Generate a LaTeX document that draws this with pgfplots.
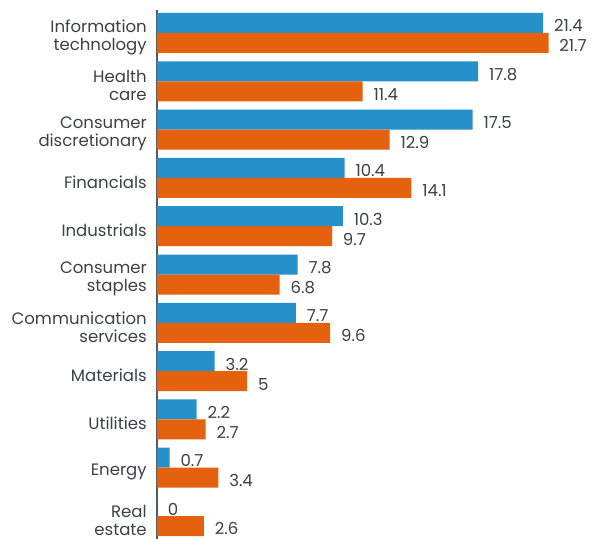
\documentclass[border=0pt]{standalone}
\usepackage{pgfplots}
\pgfplotsset{compat=1.18}
\usepackage{pgfplotstable}
\usepackage{fontspec}
\setmainfont{Poppins}

\definecolor{barblue}{HTML}{2590C9}
\definecolor{barorange}{HTML}{E4610E}
\definecolor{txt}{HTML}{3C4048}
\definecolor{axisgray}{HTML}{555A60}

% position, value
\pgfplotstableread{
pos val
0 21.4
1 17.8
2 17.5
3 10.4
4 10.3
5 7.8
6 7.7
7 3.2
8 2.2
9 0.7
10 0
}\bluedata
\pgfplotstableread{
pos val
0 21.7
1 11.4
2 12.9
3 14.1
4 9.7
5 6.8
6 9.6
7 5
8 2.7
9 3.4
10 2.6
}\orangedata

\begin{document}
\begin{tikzpicture}
\useasboundingbox (-117.75pt,0) rectangle (327pt,404.25pt);
\begin{axis}[
  scale only axis,
  width=324.75pt, height=396.75pt,
  xbar=0pt, bar width=15pt,
  xmin=0, xmax=24,
  ymin=-0.476, ymax=10.476,
  y dir=reverse,
  axis x line=none,
  axis y line*=left,
  axis line style={axisgray, line width=1.4pt},
  ytick=data,
  yticklabels={{Information\\technology},{Health\\care},{Consumer\\discretionary},
    Financials,Industrials,{Consumer\\staples},{Communication\\services},
    Materials,Utilities,Energy,{Real\\estate}},
  major tick length=0pt,
  yticklabel style={align=right, font=\fontsize{12.4}{13.5}\selectfont, text=txt,
    inner sep=0pt, xshift=-7.5pt, yshift=-3pt},
  /pgf/number format/assume math mode=true,
  nodes near coords,
  nodes near coords align={horizontal},
  every node near coord/.append style={font=\fontsize{12.4}{13.5}\selectfont,
    text=txt, inner sep=0pt, xshift=8pt, yshift=-2.2pt},
  clip=false,
]
\addplot[fill=barblue, draw=none, bar shift=7.5pt] table[x=val, y=pos] {\bluedata};
\addplot[fill=barorange, draw=none, bar shift=-7.5pt] table[x=val, y=pos] {\orangedata};
\end{axis}
\end{tikzpicture}
\end{document}
